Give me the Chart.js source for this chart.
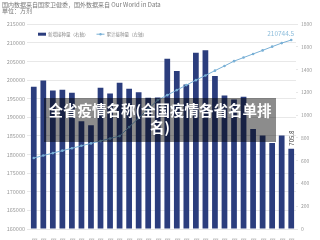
<!DOCTYPE html>
<html>
<head>
<meta charset="utf-8">
<script src="https://cdn.jsdelivr.net/npm/chart.js@4/dist/chart.umd.min.js"></script>
<style>
  html, body { margin: 0; padding: 0; background: #fff; }
  #wrap { position: relative; width: 320px; height: 240px; overflow: hidden; }
  #cover {
    position: absolute; left: 44px; top: 98px; width: 232px; height: 44px;
    background: rgba(0, 0, 0, 0.45); color: #fff; text-align: center;
    font: bold 14.5px "Noto Sans CJK SC", sans-serif; line-height: 17px;
    padding-top: 3px; box-sizing: border-box;
  }
</style>
</head>
<body>
<div id="wrap">
  <canvas id="c" width="320" height="240"></canvas>
  <div id="cover">全省疫情名称(全国疫情各省名单排<br>名)</div>
</div>
<script>
const days = [
  '8月8日', '8月9日', '8月10日', '8月11日', '8月12日', '8月13日', '8月14日',
  '8月15日', '8月16日', '8月17日', '8月18日', '8月19日', '8月20日', '8月21日',
  '8月22日', '8月23日', '8月24日', '8月25日', '8月26日', '8月27日', '8月28日',
  '8月29日', '8月30日', '8月31日', '9月1日', '9月2日', '9月3日', '9月4日'
]

// 新增接种量 (右轴, 万剂)
const daily = [
  1250, 1306, 1218, 1224, 1197, 947, 911, 1241, 1191, 1286, 1233, 1203, 1153, 1156,
  1497, 1388, 1271, 1550, 1571, 1344, 1174, 1138, 1162, 880, 821, 756, 821, 705.8
]

// 累计接种量 (左轴, 万剂)
const total = [
  179050, 179720, 180390, 181040, 181680, 182350, 182990, 183640, 184310, 184950,
  187370, 189780, 192200, 194610, 195950, 197300, 198640, 199980, 201240, 202530,
  203790, 205080, 206040, 207010, 207970, 208970, 209930, 210744.5
]

const titleLines = ['国内数据来自国家卫健委，国外数据来自 Our World in Data', '单位：万剂']

const cjk = '"Noto Sans CJK SC", "Noto Sans", sans-serif'

// legend drawn in one row inside the plot area
const insideLegend = {
  id: 'insideLegend',
  afterDraw(chart) {
    const ctx = chart.ctx
    const area = chart.chartArea
    const ds = chart.data.datasets
    let x = area.left + 9
    const y = area.top + 10
    ctx.save()
    ctx.font = '4.5px ' + cjk
    ctx.textBaseline = 'middle'
    ctx.textAlign = 'left'
    // bars
    ctx.fillStyle = ds[0].backgroundColor
    ctx.fillRect(x, y - 1.5, 8, 3)
    x += 10
    ctx.fillStyle = '#888'
    ctx.fillText(ds[0].label, x, y)
    x += ctx.measureText(ds[0].label).width + 8
    // line
    ctx.strokeStyle = ds[1].borderColor
    ctx.lineWidth = 1
    ctx.beginPath()
    ctx.moveTo(x, y)
    ctx.lineTo(x + 8, y)
    ctx.stroke()
    ctx.fillStyle = ds[1].borderColor
    ctx.beginPath()
    ctx.arc(x + 4, y, 1.2, 0, Math.PI * 2)
    ctx.fill()
    x += 10
    ctx.fillStyle = '#888'
    ctx.fillText(ds[1].label, x, y)
    ctx.restore()
  }
}

const endLabels = {
  id: 'endLabels',
  afterDatasetsDraw(chart) {
    const ctx = chart.ctx
    const bars = chart.getDatasetMeta(0).data
    const pts = chart.getDatasetMeta(1).data
    const lastBar = bars[bars.length - 1]
    const lastPt = pts[pts.length - 1]
    ctx.save()
    ctx.font = '6px ' + cjk
    ctx.fillStyle = '#333'
    ctx.translate(lastBar.x, lastBar.y - 3)
    ctx.rotate(-Math.PI / 2)
    ctx.textAlign = 'left'
    ctx.textBaseline = 'middle'
    ctx.fillText(String(daily[daily.length - 1]), 0, 0)
    ctx.restore()
    ctx.save()
    ctx.font = '6.5px ' + cjk
    ctx.fillStyle = '#8dbddb'
    ctx.textAlign = 'right'
    ctx.textBaseline = 'bottom'
    ctx.fillText(String(total[total.length - 1]), lastPt.x + 3, lastPt.y - 3)
    ctx.restore()
  }
}

new Chart(document.getElementById('c'), {
  type: 'bar',
  data: {
    labels: days,
    datasets: [
      {
        label: '新增接种量（右轴）',
        data: daily,
        yAxisID: 'y1',
        backgroundColor: '#2b3d7d',
        barPercentage: 0.6,
        categoryPercentage: 1,
        order: 1
      },
      {
        type: 'line',
        label: '累计接种量（左轴）',
        data: total,
        yAxisID: 'y',
        borderColor: '#79b0d6',
        backgroundColor: '#79b0d6',
        borderWidth: 1,
        pointRadius: 1.3,
        pointBorderWidth: 0,
        order: 0
      }
    ]
  },
  options: {
    responsive: false,
    animation: false,
    layout: { padding: { left: 2, right: 2, top: 1, bottom: 0 } },
    plugins: {
      title: {
        display: true,
        text: titleLines,
        align: 'start',
        color: '#777',
        font: { family: cjk, size: 6, weight: 'normal', lineHeight: 1.1 },
        padding: { top: 0, bottom: 10 }
      },
      legend: { display: false },
      tooltip: { enabled: false }
    },
    scales: {
      x: {
        grid: { display: false },
        border: { display: false },
        ticks: {
          autoSkip: false,
          maxRotation: 90,
          minRotation: 90,
          padding: 1,
          color: '#999',
          font: { family: cjk, size: 5 }
        },
        afterFit(s) { s.height = 11 }
      },
      y: {
        position: 'left',
        min: 160000,
        max: 215000,
        grid: { color: '#e8e8e8', lineWidth: 1, tickLength: 2 },
        border: { display: false },
        ticks: {
          stepSize: 5000,
          padding: 2,
          color: '#999',
          font: { family: cjk, size: 5.5 },
          callback: v => String(v)
        },
        afterFit(s) { s.width = 27 }
      },
      y1: {
        position: 'right',
        min: 0,
        max: 1800,
        grid: { drawOnChartArea: false, color: '#e8e8e8', tickLength: 2 },
        border: { display: false },
        ticks: {
          stepSize: 200,
          padding: 3,
          color: '#999',
          font: { family: cjk, size: 5 },
          callback: v => String(v)
        },
        afterFit(s) { s.width = 22 }
      }
    }
  },
  plugins: [endLabels, insideLegend]
})
</script>
</body>
</html>
